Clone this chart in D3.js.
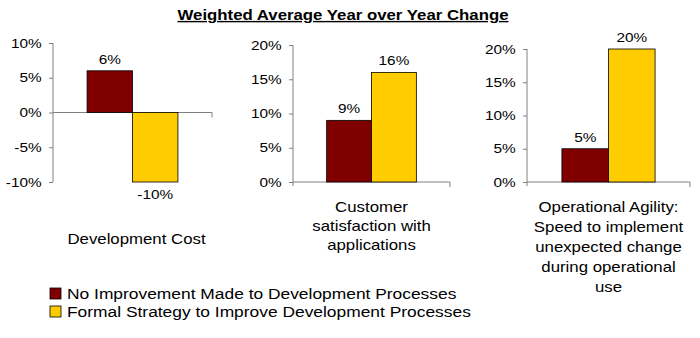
<!DOCTYPE html>
<meta charset="utf-8">
<head>
    <style>
        *{ margin:0; padding:0; }
        body{ background:#fff; }
        svg{ font-family: "Liberation Sans", Arial, sans-serif; display:block; }
        .axis path, .axis line{ stroke:#808080; }
    </style>
</head>
<body>
<svg id="chart" width="700" height="338"></svg>
<script src="https://cdn.jsdelivr.net/npm/d3@7"></script>
<script>
    // data
    var title = "Weighted Average Year over Year Change";
    var series = ["No Improvement Made to Development Processes",
                  "Formal Strategy to Improve Development Processes"];
    var seriesColors = ["#800000", "#ffcc00"];
    var categoryLines = [
        ["Development Cost"],
        ["Customer", "satisfaction with", "applications"],
        ["Operational Agility:", "Speed to implement", "unexpected change", "during operational", "use"]
    ];
    var noImprovement = [6, 9, 5];
    var formalStrategy = [-10, 16, 20];
    var yDomains = [[-10, 10], [0, 20], [0, 20]];
    var yTicks = [[-10, -5, 0, 5, 10], [0, 5, 10, 15, 20], [0, 5, 10, 15, 20]];

    // layout of the three small panels
    var panels = [
        {left: 53,  right: 212, top: 43, bottom: 182, labelY: 244, lineH: 19, labelDx: 4},
        {left: 293, right: 450, top: 45, bottom: 182, labelY: 212, lineH: 19, labelDx: 0},
        {left: 527, right: 690, top: 49, bottom: 182, labelY: 212, lineH: 20, labelDx: 0}
    ];
    var SX = 1.2; // the text in the picture is stretched sideways

    var svg = d3.select("#chart");

    function stext(g, x, y, str, anchor, size, weight) {
        return g.append("text")
            .attr("transform", "translate(" + x + "," + y + ") scale(" + SX + ",1)")
            .attr("text-anchor", anchor)
            .attr("font-size", size)
            .attr("font-weight", weight || "normal")
            .attr("fill", "#000")
            .text(str);
    }

    stext(svg, 343, 20, title, "middle", 14, "bold")
        .attr("text-decoration", "underline");

    panels.forEach(function(p, i) {
        var g = svg.append("g");
        var y = d3.scaleLinear().domain(yDomains[i]).range([p.bottom, p.top]);
        var x = d3.scaleBand().domain(series).range([p.left, p.right])
            .paddingInner(0).paddingOuter(0.75);

        // y axis
        var ya = g.append("g")
            .attr("class", "axis")
            .attr("transform", "translate(" + p.left + ",0)")
            .call(d3.axisLeft(y).tickValues(yTicks[i]).tickSize(4).tickPadding(5.5)
                .tickFormat(function(d) { return d + "%"; }));
        ya.select(".domain").attr("d", "M0," + (y.range()[1]) + "V" + (p.bottom + (y(0) === p.bottom ? 4 : 0)));
        ya.selectAll("text")
            .attr("font-size", 12.8)
            .attr("font-family", "Liberation Sans, Arial, sans-serif")
            .attr("fill", "#000")
            .attr("transform", "scale(" + SX + ",1)");

        // zero line with end ticks
        var y0 = y(0);
        g.append("line").attr("x1", x.range()[0]).attr("x2", x.range()[1])
            .attr("y1", y0).attr("y2", y0).attr("stroke", "#808080");
        g.append("line").attr("x1", x.range()[1]).attr("x2", x.range()[1])
            .attr("y1", y0).attr("y2", y0 + 5).attr("stroke", "#808080");

        var vals = [noImprovement[i], formalStrategy[i]];
        vals.forEach(function(v, k) {
            var s = series[k];
            g.append("rect")
                .attr("x", x(s))
                .attr("y", Math.min(y(v), y0))
                .attr("width", x.bandwidth())
                .attr("height", Math.abs(y(v) - y0))
                .attr("fill", seriesColors[k])
                .attr("stroke", "#000")
                .attr("stroke-width", 0.8);
            var ly = v >= 0 ? y(v) - 7 : y(v) + 17;
            stext(g, x(s) + x.bandwidth() / 2, ly, v + "%", "middle", 12.8);
        });

        var cx = (x.range()[0] + x.range()[1]) / 2 + p.labelDx;
        categoryLines[i].forEach(function(line, j) {
            stext(g, cx, p.labelY + j * p.lineH, line, "middle", 14);
        });
    });

    // legend
    var leg = svg.append("g");
    series.forEach(function(s, k) {
        var ly = 288 + k * 18;
        leg.append("rect").attr("x", 50).attr("y", ly).attr("width", 11).attr("height", 11)
            .attr("fill", seriesColors[k]).attr("stroke", "#000").attr("stroke-width", 0.8);
        stext(leg, 67, ly + 10.5, s, "start", 14.5);
    });
</script>
</body>
